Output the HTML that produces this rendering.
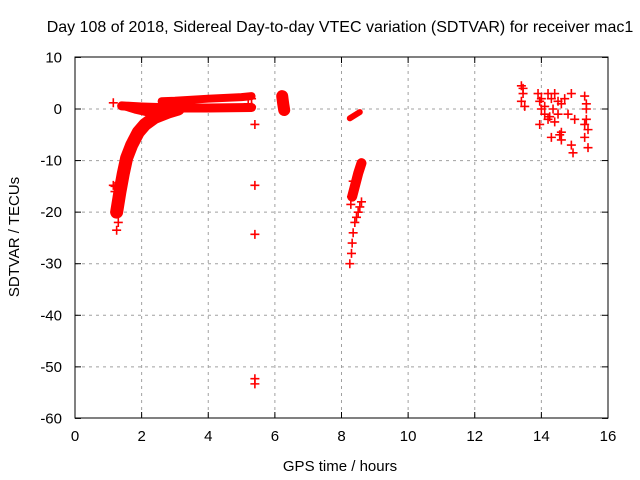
<!DOCTYPE html>
<html><head><meta charset="utf-8"><style>
body{margin:0;background:#fff}
svg{display:block;font-family:"Liberation Sans",sans-serif}
</style></head><body>
<svg id="c" width="640" height="480">
<rect width="640" height="480" fill="#fff"/>
<text x="340" y="32" font-size="16" text-anchor="middle">Day 108 of 2018, Sidereal Day-to-day VTEC variation (SDTVAR) for receiver mac1</text>
<text x="340" y="471" font-size="15" text-anchor="middle">GPS time / hours</text>
<text transform="translate(19,237) rotate(-90)" font-size="15" text-anchor="middle">SDTVAR / TECUs</text>
<g id="grid"></g><g id="marks"></g>
<rect x="75" y="57" width="533" height="361" fill="none" stroke="#000"/>
</svg>
<script>
const xTicks=[0,2,4,6,8,10,12,14,16];
const yTicks=[10,0,-10,-20,-30,-40,-50,-60];
// dense bands (drawn as thick tracks)
const bandMainX=[1.25,1.35,1.45,1.55,1.7,1.9,2.1,2.4,2.8,3.1];
const bandMainY=[-20,-16,-12.5,-9.5,-7,-4.5,-3,-1.6,-0.6,0];
const bandUpperX=[2.6,3,4,5,5.3];
const bandUpperY=[1.5,1.6,2,2.3,2.5];
const bandLowerX=[1.4,2,3,4,5.3];
const bandLowerY=[0.6,0.4,0.2,0.2,0.3];
const bandBranchX=[1.5,1.8,2.2,2.6];
const bandBranchY=[0.4,-0.2,-0.8,-0.6];
const band62X=[6.22,6.25,6.28];
const band62Y=[2.5,1,-0.2];
const bandMidAX=[8.25,8.4,8.55];
const bandMidAY=[-1.8,-1.2,-0.6];
const bandMidBX=[8.32,8.4,8.5,8.6];
const bandMidBY=[-17,-15,-12.5,-10.5];
// isolated points
const ptX=[1.15,1.2,1.2,1.25,1.15,1.3,1.35,1.4,1.3,5.4,5.4,5.4,5.4,5.4,5.3,5.2,5.3,8.25,8.3,8.32,8.35,8.4,8.45,8.5,8.55,8.6,8.3,8.28,8.35,
13.4,13.45,13.4,13.5,13.9,13.95,14.0,14.1,13.95,14.2,14.3,14.5,14.6,14.4,14.3,14.7,14.9,14.95,15.0,14.9,15.3,15.35,15.4,15.35,15.3,15.4,14.55,14.6,14.2,14.1,13.45,14.0,14.4,14.5,14.8,14.25,14.35,14.6,15.3,15.35];
const ptY=[1.2,-15,-16,-23.5,-14.8,-17,-14,-13,-22,-3,-14.8,-24.3,-52.3,-53.3,2,1,0.5,-30,-28,-26,-24,-22,-21,-20,-19,-18,-17,-18.5,-14,
4.5,3,1.5,0.5,3,1.5,0,-1,-3,3,2,-1,1,-2.5,-5.5,2,-7,-8.5,-2,3,2.5,0,-4,-2,-5.5,-7.5,-5,-6,-2,0.5,4,2,3,1.5,-1,-1.5,0,-4.5,-3,1];
const X=v=>75+v*533/16, Y=v=>109-v*361/70;
const ns="http://www.w3.org/2000/svg";
const g=document.getElementById('grid'), m=document.getElementById('marks');
function mk(t,a,p){const e=document.createElementNS(ns,t);for(const k in a)e.setAttribute(k,a[k]);p.appendChild(e);return e;}
xTicks.forEach(t=>{const x=X(t);
 if(t>0&&t<16){const l=mk('line',{x1:x,y1:57,x2:x,y2:418,stroke:'#a0a0a0','stroke-dasharray':'3,4'},g);}
 mk('line',{x1:x,y1:418,x2:x,y2:412,stroke:'#000'},g);mk('line',{x1:x,y1:57,x2:x,y2:63,stroke:'#000'},g);
 const tx=mk('text',{x:x,y:441,'font-size':15,'text-anchor':'middle'},g);tx.textContent=t;
 });
yTicks.forEach(t=>{const y=Y(t);
 if(t<10&&t>-60){const l=mk('line',{x1:75,y1:y,x2:608,y2:y,stroke:'#a0a0a0','stroke-dasharray':'3,4'},g);}
 mk('line',{x1:75,y1:y,x2:81,y2:y,stroke:'#000'},g);mk('line',{x1:608,y1:y,x2:602,y2:y,stroke:'#000'},g);
 const tx=mk('text',{x:62,y:y+5,'font-size':15,'text-anchor':'end'},g);tx.textContent=t;
 });
function band(xs,ys,w,name){const p=mk('polyline',{points:xs.map((v,i)=>X(v)+','+Y(ys[i])).join(' '),fill:'none',stroke:'#f00','stroke-width':w,'stroke-linecap':'round','stroke-linejoin':'round'},m);
 }
band(bandMainX,bandMainY,13,'main-track');
band(bandUpperX,bandUpperY,8,'upper-track');
band(bandLowerX,bandLowerY,9,'lower-track');
band(bandBranchX,bandBranchY,7,'branch-track');
band(band62X,band62Y,12,'track-6h');
band(bandMidAX,bandMidAY,6,'track-8h-upper');
band(bandMidBX,bandMidBY,10,'track-8h-middle');
ptX.forEach((v,i)=>{const x=X(v),y=Y(ptY[i]);
 const p=mk('path',{d:`M${x-4.5},${y}h9M${x},${y-4.5}v9`,stroke:'#f00','stroke-width':1.6},m);
 });
</script>
</body></html>
